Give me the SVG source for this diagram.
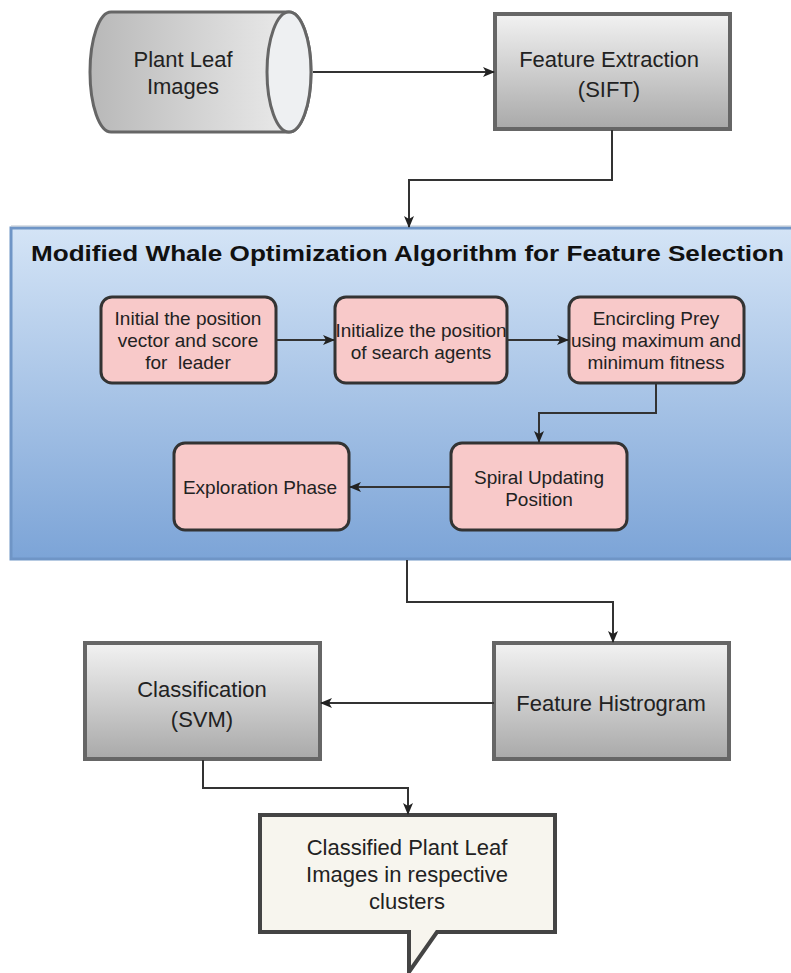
<svg xmlns="http://www.w3.org/2000/svg" width="791" height="973" viewBox="0 0 791 973">
<defs>
<linearGradient id="gCyl" x1="0" y1="0" x2="1" y2="0"><stop offset="0" stop-color="#b8b8b8"/><stop offset="1" stop-color="#efefef"/></linearGradient>
<linearGradient id="gBox" x1="0" y1="0" x2="0" y2="1"><stop offset="0" stop-color="#f2f2f2"/><stop offset="1" stop-color="#a9a9a9"/></linearGradient>
<linearGradient id="gBlue" x1="0" y1="0" x2="0" y2="1"><stop offset="0" stop-color="#d4e4f6"/><stop offset="1" stop-color="#7ca4d7"/></linearGradient>
<marker id="arr" markerWidth="12" markerHeight="10" refX="11" refY="5" orient="auto" markerUnits="userSpaceOnUse"><path d="M0,0 L12,5 L0,10 L3,5 Z" fill="#222"/></marker>
</defs>
<style>
.t{font-family:"Liberation Sans",Arial,sans-serif;fill:#222;text-anchor:middle}
.g{font-size:22px}
.p{font-size:19px}
.gbox{fill:url(#gBox);stroke:#666;stroke-width:4}
.pink{fill:#f8c9c9;stroke:#333;stroke-width:3}
.c{fill:none;stroke:#333;stroke-width:2;marker-end:url(#arr)}
</style>
<g id="cylinder">
<path d="M111,12 L289,12 A22,60 0 0 1 289,132 L111,132 A21,60 0 0 1 111,12 Z" fill="url(#gCyl)" stroke="#666" stroke-width="3"/>
<ellipse cx="289" cy="72" rx="22" ry="60" fill="#eef0f2" stroke="#666" stroke-width="3"/>
<text class="t g" x="183" y="67">Plant Leaf</text>
<text class="t g" x="183" y="94">Images</text>
</g>
<g id="featureExtraction">
<rect class="gbox" x="495" y="14" width="235" height="115"/>
<text class="t g" x="609" y="67">Feature Extraction</text>
<text class="t g" x="609" y="97">(SIFT)</text>
</g>
<g id="mwoa">
<rect x="11" y="228" width="790" height="331" fill="url(#gBlue)" stroke="#6f95c6" stroke-width="3"/>
<line x1="11" y1="226" x2="791" y2="226" stroke="#b9c3cf" stroke-width="1"/>
<text x="31" y="261" font-family="Liberation Sans,Arial,sans-serif" font-weight="bold" font-size="22.5" fill="#111" textLength="753" lengthAdjust="spacingAndGlyphs">Modified Whale Optimization Algorithm for Feature Selection</text>
</g>
<g id="initLeader">
<rect class="pink" x="101" y="297" width="175" height="86" rx="11"/>
<text class="t p" x="188" y="325">Initial the position</text>
<text class="t p" x="188" y="347">vector and score</text>
<text class="t p" x="188" y="369" xml:space="preserve">for  leader</text>
</g>
<g id="initAgents">
<rect class="pink" x="335" y="297" width="172" height="86" rx="11"/>
<text class="t p" x="421" y="337">Initialize the position</text>
<text class="t p" x="421" y="359">of search agents</text>
</g>
<g id="encircling">
<rect class="pink" x="569" y="297" width="175" height="86" rx="11"/>
<text class="t p" x="656" y="325">Encircling Prey</text>
<text class="t p" x="656" y="347">using maximum and</text>
<text class="t p" x="656" y="369">minimum fitness</text>
</g>
<g id="spiral">
<rect class="pink" x="451" y="443" width="176" height="87" rx="11"/>
<text class="t p" x="539" y="484">Spiral Updating</text>
<text class="t p" x="539" y="506">Position</text>
</g>
<g id="exploration">
<rect class="pink" x="174" y="443" width="175" height="87" rx="11"/>
<text class="t p" x="260" y="494">Exploration Phase</text>
</g>
<g id="histogram">
<rect class="gbox" x="494" y="643" width="235" height="116"/>
<text class="t g" x="611" y="711">Feature Histrogram</text>
</g>
<g id="classification">
<rect class="gbox" x="85" y="643" width="235" height="116"/>
<text class="t g" x="202" y="697">Classification</text>
<text class="t g" x="202" y="727">(SVM)</text>
</g>
<g id="result">
<path d="M260,815 L555,815 L555,932 L437,932 L409,972 L409,932 L260,932 Z" fill="#f7f5ee" stroke="#444" stroke-width="4" stroke-linejoin="miter"/>
<text class="t g" x="407" y="855">Classified Plant Leaf</text>
<text class="t g" x="407" y="882">Images in respective</text>
<text class="t g" x="407" y="909">clusters</text>
</g>
<g id="connectors">
<path class="c" d="M313,72 L494,72"/>
<path class="c" d="M612,130 L612,180 L409,180 L409,227"/>
<path class="c" d="M276,340 L334,340"/>
<path class="c" d="M507,340 L568,340"/>
<path class="c" d="M656,383 L656,413 L539,413 L539,442"/>
<path class="c" d="M451,487 L350,487"/>
<path class="c" d="M407,560 L407,602 L613,602 L613,642"/>
<path class="c" d="M494,703 L321,703"/>
<path class="c" d="M203,760 L203,788 L408,788 L408,814"/>
</g>
</svg>
